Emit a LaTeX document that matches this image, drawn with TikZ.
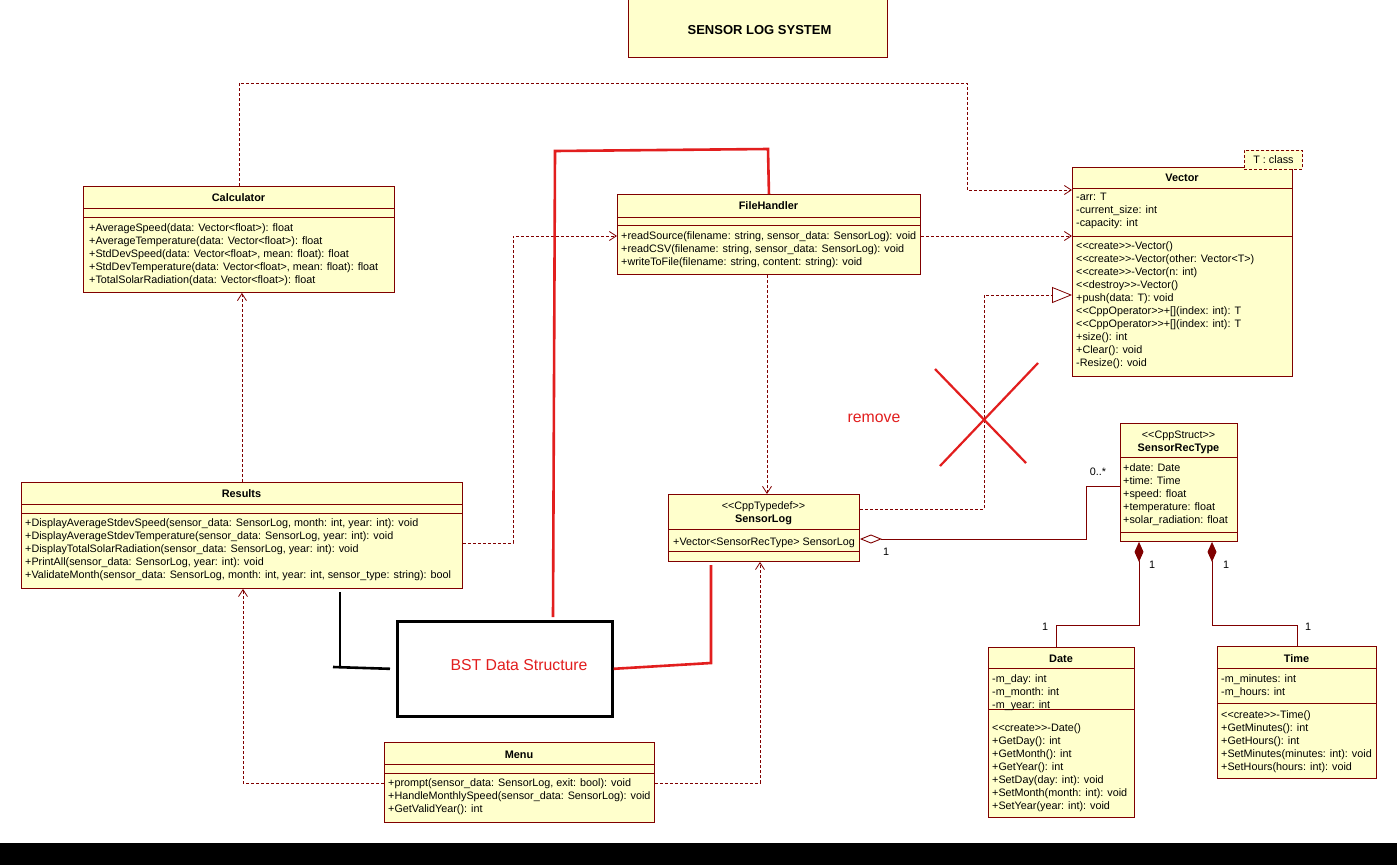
\documentclass[tikz,border=0pt]{standalone}
\usepackage{fontspec}
\setmainfont{Liberation Sans}
\usetikzlibrary{positioning, arrows.meta}

\definecolor{umlline}{RGB}{128,0,0}
\definecolor{umlfill}{RGB}{255,255,204}
\definecolor{markred}{RGB}{226,30,30}

\tikzset{
  classbox/.style={draw=umlline, fill=umlfill, line width=0.9pt, anchor=north west, inner sep=0pt},
  cname/.style={anchor=base, inner sep=0pt, font=\fontsize{10.9}{13}\selectfont\bfseries},
  stereo/.style={anchor=base, inner sep=0pt, font=\fontsize{10.8}{13}\selectfont},
  members/.style={anchor=north west, inner sep=0pt, align=left, font=\fontsize{10.8}{13}\selectfont, execute at begin node=\strut},
  compline/.style={umlline, line width=0.9pt},
  dep/.style={umlline, line width=0.8pt, dash pattern=on 3pt off 2pt, -{Straight Barb[length=7pt,width=9pt]}},
  realize/.style={umlline, line width=0.8pt, dash pattern=on 3pt off 2pt, -{Triangle[open,length=20pt,width=16pt]}},
  aggr/.style={umlline, line width=0.9pt, {Diamond[open,length=22pt,width=9pt]}-},
  compo/.style={umlline, line width=0.9pt, {Diamond[length=20pt,width=9pt]}-},
  mult/.style={inner sep=0pt, font=\fontsize{10.8}{13}\selectfont},
  redmark/.style={markred, line width=2.6pt},
  blackmark/.style={black, line width=2.6pt},
  redtext/.style={markred, inner sep=0pt, font=\fontsize{15.8}{18}\selectfont}
}

\begin{document}
\begin{tikzpicture}[x=1pt,y=-1pt]
\useasboundingbox (0,0) rectangle (1397,865);
\fill[white] (0,0) rectangle (1397,865);
\fill[black] (0,843) rectangle (1397,865);%bande du bas

% titre
\node[classbox, minimum width=259pt, minimum height=59pt] (title) at (628,-2) {};
\node[inner sep=0pt, font=\fontsize{13}{16}\selectfont\bfseries] (titletext) at (759.5,30) {SENSOR LOG SYSTEM};

% Calculator
\node[classbox, minimum width=311pt, minimum height=106pt] (calc) at (83,186) {};
\draw[compline] (83,208) -- (394,208);
\draw[compline] (83,217) -- (394,217);
\node[cname] (calcname) at (238.5,201) {Calculator};
\node[members] (calcops) at (89,223) {+AverageSpeed(data: Vector<float>): float\\
+AverageTemperature(data: Vector<float>): float\\
+StdDevSpeed(data: Vector<float>, mean: float): float\\
+StdDevTemperature(data: Vector<float>, mean: float): float\\
+TotalSolarRadiation(data: Vector<float>): float};

% FileHandler
\node[classbox, minimum width=303pt, minimum height=80pt] (fh) at (617,194) {};
\draw[compline] (617,217) -- (920,217);
\draw[compline] (617,225) -- (920,225);
\node[cname] (fhname) at (768.5,209) {FileHandler};
\node[members] (fhops) at (621,231) {+readSource(filename: string, sensor\_data: SensorLog): void\\
+readCSV(filename: string, sensor\_data: SensorLog): void\\
+writeToFile(filename: string, content: string): void};

% Vector
\node[classbox, minimum width=220pt, minimum height=209pt] (vec) at (1072,167) {};
\draw[compline] (1072,188) -- (1292,188);
\draw[compline] (1072,236) -- (1292,236);
\node[cname] (vecname) at (1182,181) {Vector};
\node[members] (vecattr) at (1076,193) {-arr: T\\
-current\_size: int\\
-capacity: int};
\node[members] (vecops) at (1076,241) {<{}<create>{}>-Vector()\\
<{}<create>{}>-Vector(other: Vector<T>)\\
<{}<create>{}>-Vector(n: int)\\
<{}<destroy>{}>-Vector()\\
+push(data: T): void\\
<{}<CppOperator>{}>+[](index: int): T\\
<{}<CppOperator>{}>+[](index: int): T\\
+size(): int\\
+Clear(): void\\
-Resize(): void};
\node[classbox, dash pattern=on 3pt off 2pt, minimum width=58pt, minimum height=19pt, font=\fontsize{10.8}{13}\selectfont] (tpl) at (1244,150) {T : class};

% Results
\node[classbox, minimum width=441pt, minimum height=106pt] (results) at (21,482) {};
\draw[compline] (21,504) -- (462,504);
\draw[compline] (21,513) -- (462,513);
\node[cname] (resname) at (241.5,497) {Results};
\node[members] (resops) at (25,518) {+DisplayAverageStdevSpeed(sensor\_data: SensorLog, month: int, year: int): void\\
+DisplayAverageStdevTemperature(sensor\_data: SensorLog, year: int): void\\
+DisplayTotalSolarRadiation(sensor\_data: SensorLog, year: int): void\\
+PrintAll(sensor\_data: SensorLog, year: int): void\\
+ValidateMonth(sensor\_data: SensorLog, month: int, year: int, sensor\_type: string): bool};

% SensorLog
\node[classbox, minimum width=191pt, minimum height=67pt] (sl) at (668,494) {};
\draw[compline] (668,529) -- (859,529);
\draw[compline] (668,551) -- (859,551);
\node[stereo] (slstereo) at (763.5,509) {<{}<CppTypedef>{}>};
\node[cname] (slname) at (763.5,522) {SensorLog};
\node[members] (slattr) at (673,536) {+Vector<SensorRecType> SensorLog};

% SensorRecType
\node[classbox, minimum width=117pt, minimum height=118pt] (srt) at (1120,423) {};
\draw[compline] (1120,457) -- (1237,457);
\draw[compline] (1120,532) -- (1237,532);
\node[stereo] (srtstereo) at (1178.5,438) {<{}<CppStruct>{}>};
\node[cname] (srtname) at (1178.5,451) {SensorRecType};
\node[members] (srtattr) at (1123,463) {+date: Date\\
+time: Time\\
+speed: float\\
+temperature: float\\
+solar\_radiation: float};

% Date
\node[classbox, minimum width=146pt, minimum height=170pt] (date) at (988,647) {};
\draw[compline] (988,668) -- (1134,668);
\draw[compline] (988,709) -- (1134,709);
\node[cname] (datename) at (1061,662) {Date};
\node[members] (dateattr) at (992,674) {-m\_day: int\\
-m\_month: int\\
-m\_year: int};
\node[members] (dateops) at (992,723) {<{}<create>{}>-Date()\\
+GetDay(): int\\
+GetMonth(): int\\
+GetYear(): int\\
+SetDay(day: int): void\\
+SetMonth(month: int): void\\
+SetYear(year: int): void};

% Time
\node[classbox, minimum width=159pt, minimum height=132pt] (time) at (1217,646) {};
\draw[compline] (1217,668) -- (1376,668);
\draw[compline] (1217,703) -- (1376,703);
\node[cname] (timename) at (1296.5,662) {Time};
\node[members] (timeattr) at (1221,674) {-m\_minutes: int\\
-m\_hours: int};
\node[members] (timeops) at (1221,710) {<{}<create>{}>-Time()\\
+GetMinutes(): int\\
+GetHours(): int\\
+SetMinutes(minutes: int): void\\
+SetHours(hours: int): void};

% Menu
\node[classbox, minimum width=270pt, minimum height=80pt] (menu) at (384,742) {};
\draw[compline] (384,764) -- (654,764);
\draw[compline] (384,773) -- (654,773);
\node[cname] (menuname) at (519,758) {Menu};
\node[members] (menuops) at (388,778) {+prompt(sensor\_data: SensorLog, exit: bool): void\\
+HandleMonthlySpeed(sensor\_data: SensorLog): void\\
+GetValidYear(): int};

% dependances
\draw[dep] (calc.north) |- (967,83) |- (vec.west |- 0,190);
\draw[dep] (results.north) -- (results.north |- calc.south);
\draw[dep] (results.east |- 0,543) -| (513,236) -- (fh.west |- 0,236);
\draw[dep] (fh.east |- 0,236) -- (vec.west |- 0,236);
\draw[dep] (fh.south -| 767,0) -- (sl.north -| 767,0);
\draw[dep] (menu.west |- 0,783) -| (results.south -| 243,0);
\draw[dep] (menu.east |- 0,783) -| (sl.south -| 760,0);
\draw[realize] (sl.east |- 0,509) -| (984,295) -- (vec.west |- 0,295);

% associations
\draw[aggr] (sl.east |- 0,539) -| (1086,486) -- (srt.west |- 0,486);
\node[mult] (m1) at (886,552) {1};
\node[mult] (m2) at (1098,472) {0..*};
\draw[compo] (srt.south -| 1139,0) |- (1056,625) -- (date.north -| 1056,0);
\draw[compo] (srt.south -| 1212,0) |- (time.north |- 0,625) -- (time.north);
\node[mult] (m3) at (1152,565) {1};
\node[mult] (m4) at (1045,627) {1};
\node[mult] (m5) at (1226,565) {1};
\node[mult] (m6) at (1308,627) {1};

% annotations
\node[draw=black, line width=2.6pt, minimum width=215pt, minimum height=95pt, anchor=north west, inner sep=0pt] (bst) at (396,620) {};
\node[redtext] (bsttext) at (519,665) {BST Data Structure};
\draw[redmark] (553,617) -- (555,151) -- (768,149) -- (fh.north);
\draw[redmark] (bst.east) -- (711,663) -- (711,565);
\draw[blackmark] (340,592) -- (340,667);
\draw[blackmark] (333,667) -- ([xshift=-6pt]bst.west);
\node[redtext] (rm) at (874,418) {remove};
\draw[redmark, line width=2.2pt] (935,369) -- (1026,463);
\draw[redmark, line width=2.2pt] (1038,363) -- (940,466);

\end{tikzpicture}
\end{document}
